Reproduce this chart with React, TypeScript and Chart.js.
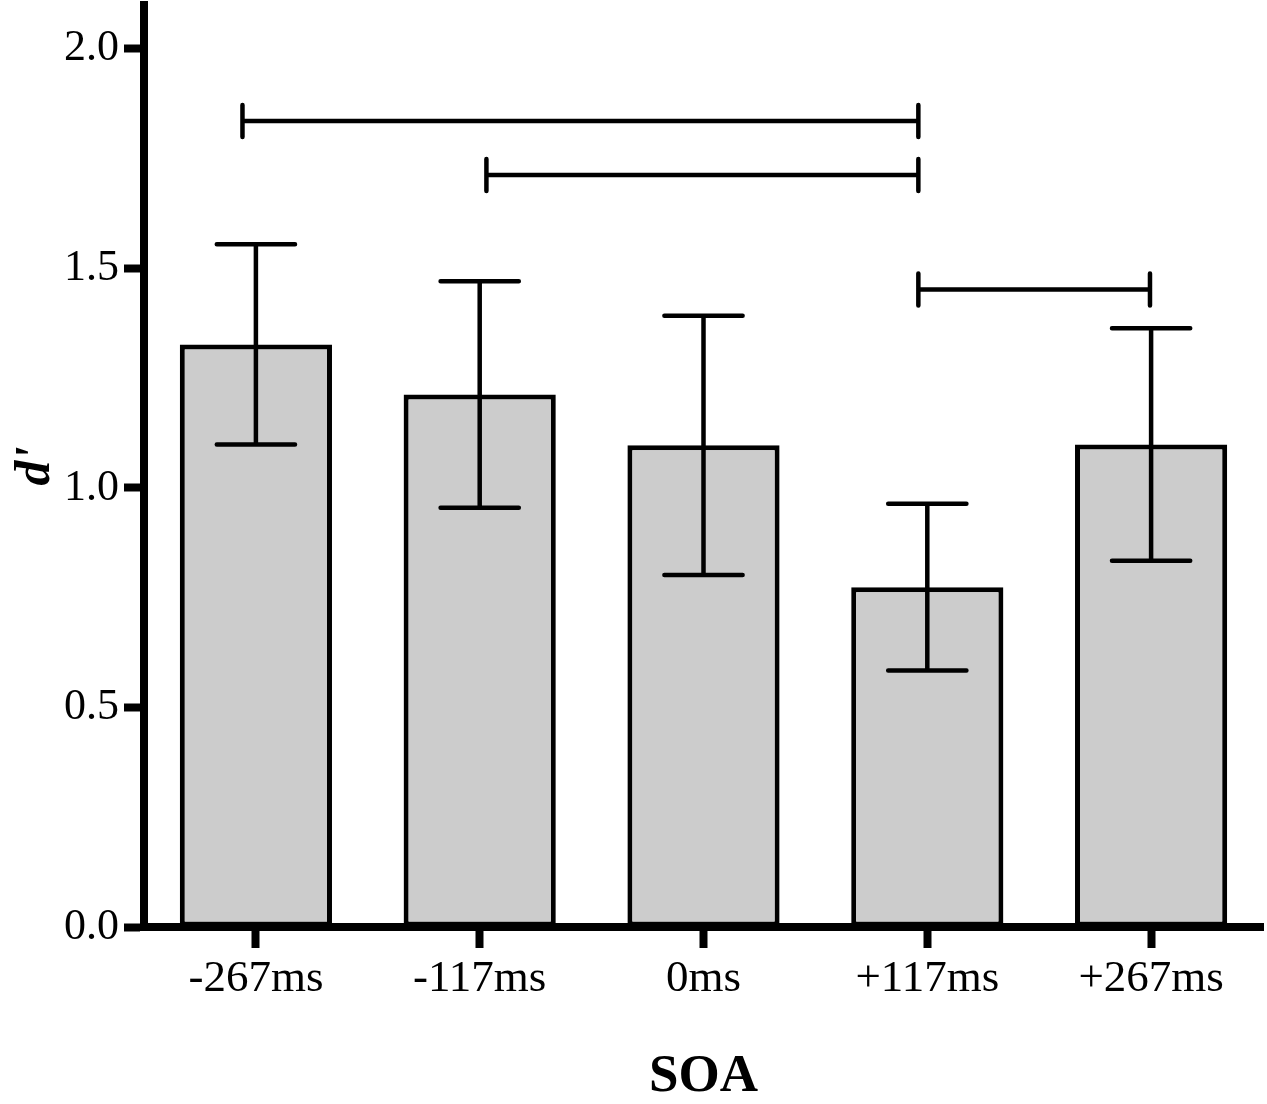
import { useEffect, useRef } from 'react'
import { Chart, registerables, Plugin } from 'chart.js'

Chart.register(...registerables)

const SOA = ['-267ms', '-117ms', '0ms', '+117ms', '+267ms']
const DPRIME = [1.327, 1.213, 1.097, 0.774, 1.099]
const SEM = [0.228, 0.258, 0.295, 0.19, 0.265]
const Y_TICKS = [0, 0.5, 1.0, 1.5, 2.0]
// significance brackets, x in category-index units, y in d'
const SIG_FROM = [-0.06, 1.03, 2.96]
const SIG_TO = [2.96, 2.96, 3.995]
const SIG_Y = [1.836, 1.713, 1.452]

const FONT = '"Liberation Serif", "Times New Roman", serif'

const errorBars: Plugin<'bar'> = {
  id: 'errorBars',
  afterDatasetsDraw(chart) {
    const { ctx } = chart
    const xs = chart.scales.x
    const ys = chart.scales.y
    const meta = chart.getDatasetMeta(0)
    ctx.save()
    ctx.strokeStyle = '#000'
    ctx.lineWidth = 4.5
    ctx.lineCap = 'round'
    meta.data.forEach((bar: any, i) => {
      const cx = bar.x
      const half = bar.width * 0.257
      const hi = ys.getPixelForValue(DPRIME[i] + SEM[i])
      const lo = ys.getPixelForValue(DPRIME[i] - SEM[i])
      ctx.beginPath()
      ctx.moveTo(cx, hi); ctx.lineTo(cx, lo)
      ctx.moveTo(cx - half, hi); ctx.lineTo(cx + half, hi)
      ctx.moveTo(cx - half, lo); ctx.lineTo(cx + half, lo)
      ctx.stroke()
    })
    SIG_Y.forEach((v, k) => {
      const py = ys.getPixelForValue(v)
      const x1 = xs.getPixelForValue(SIG_FROM[k])
      const x2 = xs.getPixelForValue(SIG_TO[k])
      ctx.beginPath()
      ctx.moveTo(x1, py); ctx.lineTo(x2, py)
      ctx.moveTo(x1, py - 16); ctx.lineTo(x1, py + 16)
      ctx.moveTo(x2, py - 16); ctx.lineTo(x2, py + 16)
      ctx.stroke()
    })
    ctx.restore()
  },
}

export default function App() {
  const ref = useRef<HTMLCanvasElement>(null)
  const chart = useRef<Chart | null>(null)

  useEffect(() => {
    if (!ref.current) return
    chart.current?.destroy()
    chart.current = new Chart(ref.current, {
      type: 'bar',
      data: {
        labels: SOA,
        datasets: [{
          data: DPRIME,
          backgroundColor: '#cccccc',
          borderColor: '#000',
          borderWidth: 5,
          borderSkipped: false,
          barPercentage: 0.68,
          categoryPercentage: 1,
        }],
      },
      options: {
        responsive: true, maintainAspectRatio: false, animation: false,
        devicePixelRatio: 1,
        layout: { padding: { top: 5, right: 4, left: 0, bottom: 0 } },
        plugins: { legend: { display: false }, tooltip: { enabled: false } },
        scales: {
          x: {
            offset: true,
            grid: { offset: false, drawOnChartArea: false, drawTicks: true, tickLength: 21, tickWidth: 8, tickColor: '#000' },
            border: { display: true, color: '#000', width: 8 },
            ticks: { color: '#000', padding: 4, font: { family: FONT, size: 45 } },
            title: { display: true, text: 'SOA', color: '#000', padding: { top: 0, bottom: 0 },
              font: { family: FONT, size: 53, weight: 'bold', lineHeight: 1 } },
            afterFit: (s: any) => { s.height = 177; s.paddingLeft = 0; s.paddingRight = 0 },
          },
          y: {
            min: 0, max: 2.1,
            afterBuildTicks: (s: any) => { s.ticks = Y_TICKS.map(v => ({ value: v })) },
            grid: { drawOnChartArea: false, drawTicks: true, tickLength: 20, tickWidth: 8, tickColor: '#000' },
            border: { display: true, color: '#000', width: 8 },
            ticks: { color: '#000', padding: 5, font: { family: FONT, size: 44 },
              callback: (v: any) => Number(v).toFixed(1) },
            title: { display: true, text: "d'", color: '#000', padding: { top: 11, bottom: 0 },
              font: { family: FONT, size: 50, weight: 'bold', style: 'italic', lineHeight: 1 } },
            afterFit: (s: any) => { s.width = 144; s.paddingTop = 0; s.paddingBottom = 0 },
          },
        },
      } as any,
      plugins: [errorBars],
    })
    return () => chart.current?.destroy()
  }, [])

  return (
    <div style={{ position: 'absolute', left: 0, top: 0, width: 1267, height: 1104, background: '#fff' }}>
      <canvas ref={ref} />
    </div>
  )
}
